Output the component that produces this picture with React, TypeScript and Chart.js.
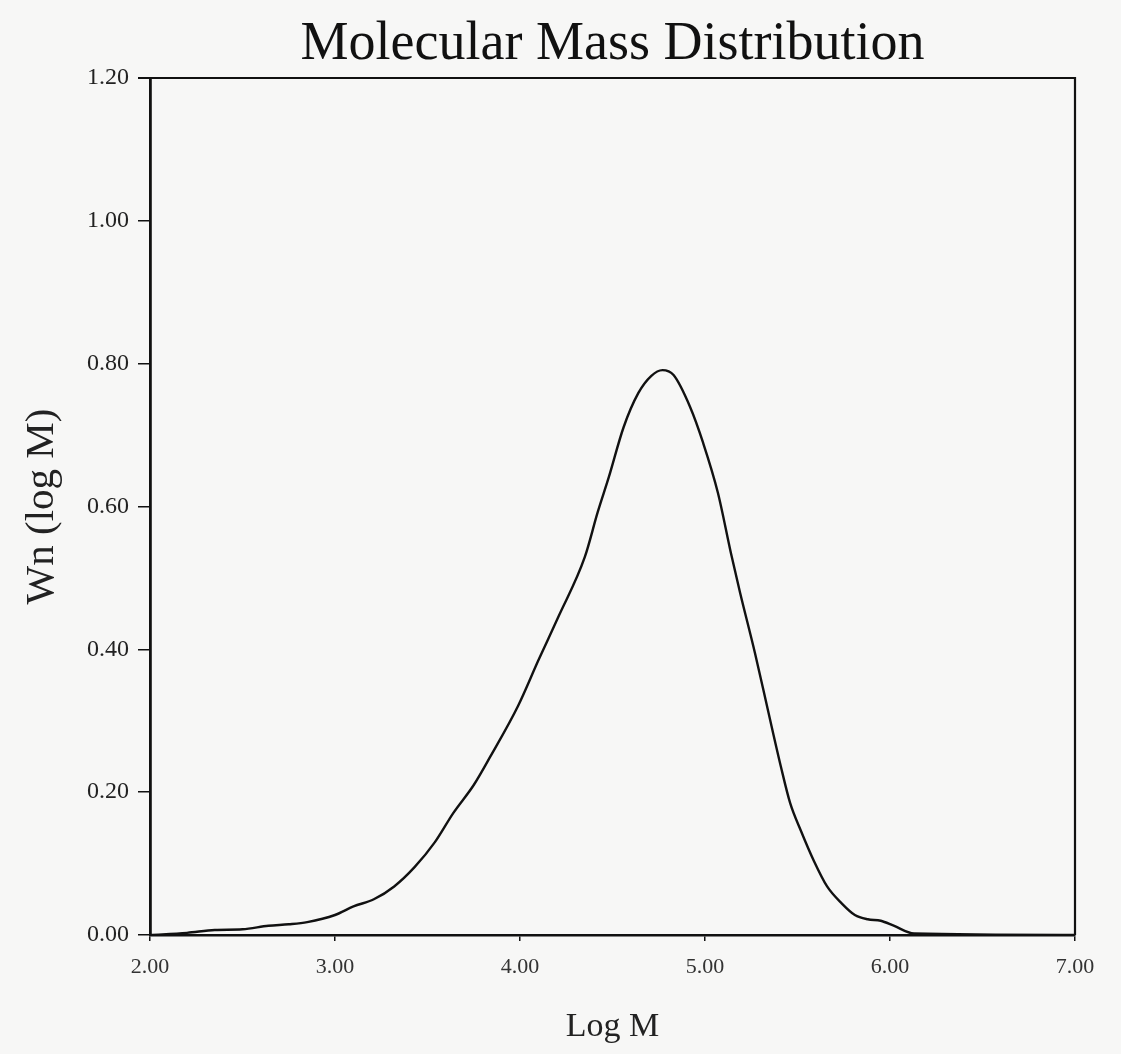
import React, { useEffect, useRef } from "react";
import { Chart, registerables } from "chart.js";

Chart.register(...registerables);

const chartTitle = "Molecular Mass Distribution";
const xAxisTitle = "Log M";
const yAxisTitle = "Wn (log M)";

const logM = [
  2.0, 2.2, 2.35, 2.5, 2.64, 2.75, 2.85, 3.0, 3.1, 3.21, 3.32, 3.43, 3.54,
  3.64, 3.75, 3.84, 3.99, 4.1, 4.21, 4.35, 4.42, 4.48, 4.56, 4.64, 4.71, 4.77,
  4.83, 4.92, 4.99, 5.07, 5.14, 5.19, 5.27, 5.34, 5.41, 5.46, 5.52, 5.59, 5.66,
  5.74, 5.81, 5.88, 5.95, 6.02, 6.13, 7.0,
];
const wn = [
  0.0, 0.003, 0.007, 0.008, 0.013, 0.015, 0.018, 0.028, 0.04, 0.05, 0.068,
  0.095, 0.13, 0.171, 0.21, 0.25, 0.321, 0.385, 0.447, 0.529, 0.592, 0.641,
  0.711, 0.759, 0.783, 0.791, 0.784, 0.739, 0.689, 0.619, 0.535, 0.479, 0.395,
  0.315, 0.236, 0.185, 0.145, 0.103, 0.068, 0.044, 0.028, 0.022, 0.02, 0.013,
  0.002, 0.0,
];

const xMin = 2;
const xMax = 7;
const xStep = 1;
const yMin = 0;
const yMax = 1.2;
const yStep = 0.2;

const W = 1121;
const H = 1054;

const bgPlugin = {
  id: "paperBg",
  beforeDraw(chart: any) {
    const { ctx } = chart;
    ctx.save();
    ctx.fillStyle = "#f7f7f6";
    ctx.fillRect(0, 0, chart.width, chart.height);
    ctx.restore();
  },
};

const framePlugin = {
  id: "frame",
  afterDraw(chart: any) {
    const { ctx, chartArea } = chart;
    ctx.save();
    ctx.strokeStyle = "#111";
    ctx.lineWidth = 2.2;
    ctx.beginPath();
    ctx.moveTo(chartArea.left - 12, chartArea.top);
    ctx.lineTo(chartArea.right, chartArea.top);
    ctx.lineTo(chartArea.right, chartArea.bottom);
    ctx.stroke();
    ctx.restore();
  },
};

export default function App() {
  const ref = useRef<HTMLCanvasElement | null>(null);

  useEffect(() => {
    if (!ref.current) return;
    const points = logM.map((x, i) => ({ x, y: wn[i] }));
    const serif = "'Liberation Serif', 'Times New Roman', serif";
    const chart = new Chart(ref.current, {
      type: "scatter",
      data: {
        datasets: [
          {
            data: points,
            showLine: true,
            borderColor: "#111",
            borderWidth: 2.4,
            pointRadius: 0,
            cubicInterpolationMode: "monotone",
            fill: false,
          },
        ],
      },
      options: {
        animation: false,
        responsive: false,
        layout: { padding: { left: 0, right: 46, top: 0, bottom: 0 } },
        plugins: {
          legend: { display: false },
          tooltip: { enabled: false },
          title: {
            display: true,
            fullSize: false,
            text: chartTitle,
            color: "#111",
            font: { family: serif, size: 54, weight: "normal", lineHeight: 1.2 },
            padding: { top: 12, bottom: 1.2 },
          },
        },
        scales: {
          x: {
            type: "linear",
            min: xMin,
            max: xMax,
            afterFit: (s: any) => {
              s.height = 119;
            },
            ticks: {
              stepSize: xStep,
              color: "#333",
              font: { family: serif, size: 22 },
              padding: 13,
              maxRotation: 0,
              callback: (v: any) => Number(v).toFixed(2),
            },
            grid: {
              drawOnChartArea: false,
              drawTicks: true,
              tickLength: 6,
              color: "#111",
              lineWidth: 1.5,
            },
            border: { display: true, color: "#111", width: 2.5 },
            title: {
              display: true,
              text: xAxisTitle,
              color: "#222",
              font: { family: serif, size: 34 },
              padding: { top: 0, bottom: 7 },
            },
          },
          y: {
            type: "linear",
            min: yMin,
            max: yMax,
            afterFit: (s: any) => {
              s.width = 150;
            },
            ticks: {
              stepSize: yStep,
              color: "#222",
              font: { family: serif, size: 24 },
              padding: 9,
              callback: (v: any) => Number(v).toFixed(2),
            },
            grid: {
              drawOnChartArea: false,
              drawTicks: true,
              tickLength: 12,
              color: "#111",
              lineWidth: 1.5,
            },
            border: { display: true, color: "#111", width: 2.8 },
            title: {
              display: true,
              text: yAxisTitle,
              color: "#222",
              font: { family: serif, size: 41 },
              padding: { top: 18, bottom: 0 },
            },
          },
        },
      } as any,
      plugins: [bgPlugin, framePlugin],
    });
    return () => chart.destroy();
  }, []);

  return (
    <div
      style={{
        position: "fixed",
        left: 0,
        top: 0,
        width: W,
        height: H,
        overflow: "hidden",
      }}
    >
      <canvas ref={ref} width={W} height={H} style={{ display: "block" }} />
    </div>
  );
}
